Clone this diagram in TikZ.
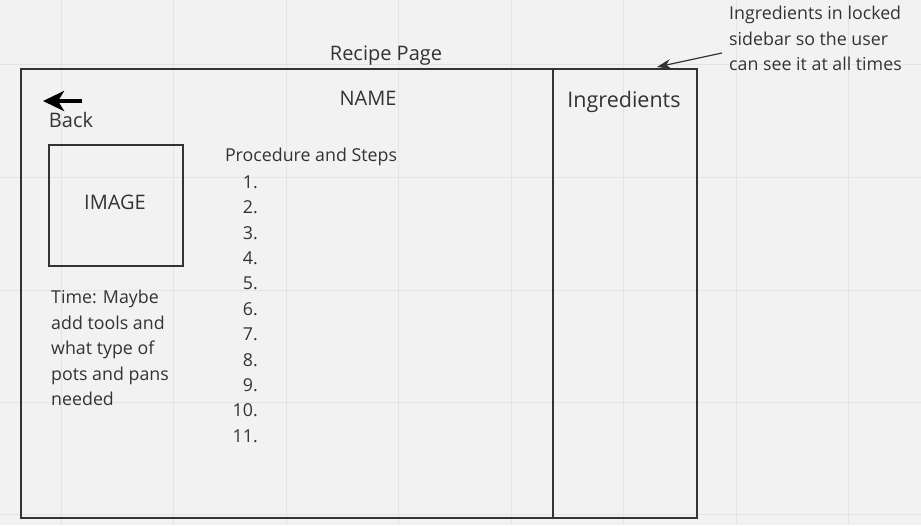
\documentclass[tikz,border=0pt]{standalone}
\usepackage{fontspec}
\setmainfont{Open Sans}
\usepackage{tikz}
\usetikzlibrary{arrows.meta}
\usetikzlibrary{calc}

\definecolor{ink}{HTML}{333333}
\definecolor{paper}{HTML}{F2F2F2}
\definecolor{gridline}{HTML}{E4E4E4}

\begin{document}
\begin{tikzpicture}[x=1pt, y=-1pt,
	frame/.style={draw=ink, line width=2.4pt, inner sep=0pt},
	big/.style={text=ink, font=\fontsize{20}{24}\selectfont},
	small/.style={text=ink, font=\fontsize{17.8}{25.5}\selectfont},
	note/.style={small, align=left, anchor=north west, inner sep=0pt}]
% canvas and grid
\fill[paper] (0,0) rectangle (921,525);
\useasboundingbox (0,0) rectangle (921,525);
\foreach \gx in {61,173.5,286,398.5,511,623.5,736,848.5}
	\draw[gridline, line width=1pt] (\gx,0) -- (\gx,525);
\foreach \gy in {64,177,290,402,514}
	\draw[gridline, line width=1pt] (0,\gy) -- (921,\gy);

% page frame and sidebar
\node[frame, minimum width=532pt, minimum height=449pt, anchor=north west] (page) at (20,68) {};
\node[frame, minimum width=144pt, minimum height=449pt, anchor=north west] (side) at (552,68) {};
\node[big] (title) at (386,56) {Recipe Page};
\node[big] (name) at (368,98) {NAME};
\node[big, font=\fontsize{21.5}{24}\selectfont] (ingr) at (624,102) {Ingredients};

% back button
\node[big] (back) at (71,120) {Back};
\coordinate (backA) at (82,101);
\coordinate (backB) at (43,101);
\draw[line width=4pt, -{Stealth[length=21pt, width=20pt, inset=6pt]}] (backA) -- (backB);

% image
\node[frame, line width=2pt, minimum width=134pt, minimum height=121pt, anchor=north west] (img) at (48,144) {};
\node[big] (imgtext) at (115,202) {IMAGE};

% procedure
\node[small] (proc) at (311,157) {Procedure and Steps};
\foreach \i in {1,...,11}
	\node[small, anchor=east, inner sep=0pt] (step\i) at (258,{182+25.4*(\i-1)}) {\i.};

% time note
\node[note] (time) at (51,290) {Time: Maybe\\add tools and\\what type of\\pots and pans\\needed};

% sidebar note
\node[note] (lock) at (729,6) {Ingredients in locked\\sidebar so the user\\can see it at all times};
\coordinate (lockA) at (722,53);
\coordinate (lockB) at (657,67);
\draw[ink, line width=1.2pt, -{Stealth[length=14pt, width=10pt]}] (lockA) -- (lockB);
\end{tikzpicture}
\end{document}
